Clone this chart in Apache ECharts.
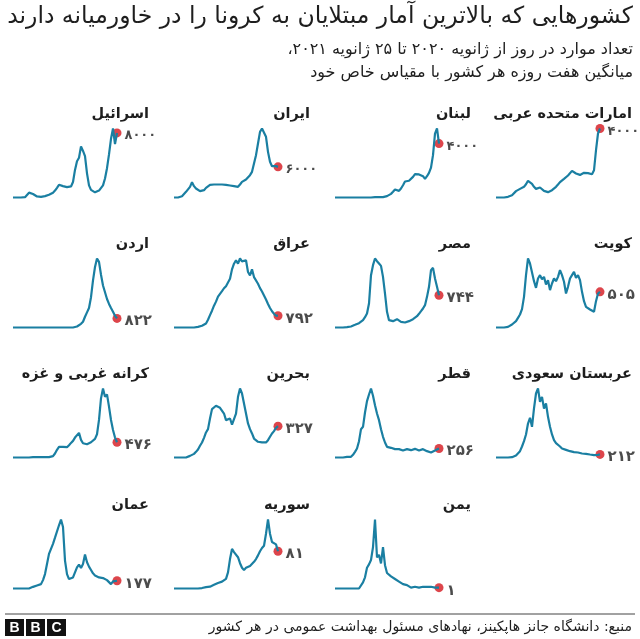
<!DOCTYPE html>
<html>
<head>
<meta charset="utf-8">
<script src="https://cdn.jsdelivr.net/npm/echarts@6/dist/echarts.min.js"></script>
<style>
  html, body { margin: 0; padding: 0; background: #fff; }
  #chart { width: 640px; height: 639px; }
</style>
</head>
<body>
<div id="chart"></div>
<script>
// daily cases, 7-day average, Jan 2020 - 25 Jan 2021 (read roughly once a week)
const uae = [0,0,0,0,0,0,40,80,135,230,370,465,500,560,620,770,965,945,790,620,500,425,580,520,385,330,310,370,425,500,620,750,890,1000,1080,1160,1275,1390,1545,1620,1390,1310,1310,1390,1430,1430,1410,1390,1350,1580,2740,3710,4000]
const lebanon = [0,0,0,0,0,0,0,0,0,0,0,0,0,0,0,0,0,0,0,0,25,25,25,25,25,50,100,170,270,420,590,590,490,670,910,1190,1280,1240,1330,1530,1730,1780,1710,1680,1580,1380,1580,1830,2220,3140,4740,5120,4000]
const iran = [0,0,0,65,260,650,1110,1430,2090,3000,2220,1760,1430,1240,1110,1430,1890,2220,2480,2740,2540,2410,2540,2480,2540,2540,2480,2540,2350,2280,2220,1960,2090,2540,3060,3390,3520,3850,4370,5020,6650,8280,10560,12850,13500,13370,11870,8930,6980,6130,6000,6130,6000]
const israel = [0,0,0,0,0,0,43,214,600,640,430,256,128,85,85,85,171,256,342,428,600,855,1197,1580,1710,1410,1370,1280,1325,1370,1920,3420,4490,4920,6330,5770,5130,2990,1500,940,727,640,727,855,1070,1500,2350,3630,5340,7270,8550,6630,8000]
const kuwait = [0,0,0,0,0,0,9,24,42,66,90,137,184,260,434,741,977,906,920,656,562,694,741,684,717,609,670,529,623,694,656,717,812,741,647,481,576,694,741,788,703,741,670,505,373,293,269,255,236,222,373,481,505]
const egypt = [0,0,0,0,0,0,8,15,23,38,61,77,100,130,169,238,323,553,1206,1436,1590,1528,1475,1420,1167,783,361,169,130,146,184,192,146,130,123,115,130,146,161,192,215,261,315,376,438,515,706,937,1321,1375,1129,937,744]
const iraq = [0,0,0,0,0,0,0,0,0,0,0,25,45,70,115,180,270,520,835,1130,1470,1740,2080,2260,2440,2640,2780,2870,3280,3910,4290,4520,4290,4640,4450,4360,4520,3730,3500,3910,3390,3500,2940,2650,2420,2150,1880,1580,1310,1090,930,790,792]
const jordan = [0,0,0,0,0,0,0,0,0,0,0,0,0,0,0,0,0,0,0,0,0,0,0,0,0,0,0,0,0,0,0,30,90,180,335,520,970,1370,1760,2740,4260,5470,6240,5930,4770,3800,3190,2580,2130,1760,1430,1060,822]
const saudi = [0,0,0,0,0,0,0,0,23,68,136,250,431,749,1112,1566,2315,2700,2090,3340,4360,4700,3800,4130,3340,3680,2770,2090,1570,1180,977,886,750,613,568,522,454,431,386,363,340,340,295,272,272,250,227,204,182,159,159,182,212]
const qatar = [0,0,0,0,0,0,19,47,19,76,161,256,464,805,871,1278,1600,1790,1960,1752,1487,1250,1060,805,587,426,303,256,275,303,237,218,237,218,199,227,237,208,208,237,246,218,199,218,237,227,180,161,142,161,199,237,256]
const bahrain = [0,0,0,0,0,0,0,7,17,24,38,59,84,122,157,205,261,296,407,505,519,540,546,519,529,459,390,379,407,344,355,459,633,720,668,564,459,355,296,251,198,181,164,146,157,164,157,181,216,251,275,310,327]
const westBank = [0,0,0,0,0,0,0,0,0,0,10,10,10,10,10,10,10,10,10,10,42,125,240,333,291,333,374,322,385,457,520,624,686,770,551,447,416,416,437,478,520,582,728,1175,1851,2160,1903,1976,1591,1175,863,624,476]
const yemen = [0,0,0,0,0,0,0,0,0,0,0,0,0,2,7,13,24,28,33,48,80,36,39,29,48,27,18,20,14,12,11,9,8,7,5,3,4,2,1,1,2,1,1,2,2,1,2,1,2,2,1,2,1]
const syria = [0,0,0,0,0,0,0,0,0,0,0,0,0,1,1,2,3,7,4,6,8,9,12,13,15,18,21,35,64,86,79,75,68,55,45,40,45,47,49,52,58,64,72,81,88,93,119,150,119,101,101,96,81]
const oman = [0,0,0,0,0,0,0,0,0,15,38,77,69,54,100,192,331,562,793,808,1024,1163,1178,1448,1580,1409,639,331,216,192,254,370,485,547,470,562,778,601,501,424,347,300,270,254,231,239,208,192,162,100,162,177,177]

const countries = ['امارات متحده عربی', 'لبنان', 'ایران', 'اسرائیل', 'کویت', 'مصر', 'عراق', 'اردن',
  'عربستان سعودی', 'قطر', 'بحرین', 'کرانه غربی و غزه', 'یمن', 'سوریه', 'عمان']
const values = [uae, lebanon, iran, israel, kuwait, egypt, iraq, jordan,
  saudi, qatar, bahrain, westBank, yemen, syria, oman]
const endLabels = ['۴۰۰۰', '۴۰۰۰', '۶۰۰۰', '۸۰۰۰', '۵۰۵', '۷۴۴', '۷۹۲', '۸۲۲',
  '۲۱۲', '۲۵۶', '۳۲۷', '۴۷۶', '۱', '۸۱', '۱۷۷']

const RLM = '\u200F'
const font = "'DejaVu Sans', sans-serif"
const lineColor = '#1a7fa2'
const dotColor = '#d4161e'
const ink = '#1e1e1e'

// panel layout, columns counted from the right
const colLeft = [496, 335, 174, 13]
const rowTop = [128.5, 258.5, 388.5, 519.5]
const plotW = 104
const plotH = 69

const grids = []
const xAxes = []
const yAxes = []
const series = []
const graphics = []

countries.forEach((name, k) => {
  const slot = k < 12 ? k : k + 1 // last row starts one column in
  const row = Math.floor(slot / 4)
  const col = slot % 4
  const data = values[k]
  const n = data.length
  grids.push({ left: colLeft[col], top: rowTop[row], width: plotW, height: plotH })
  xAxes.push({ gridIndex: k, type: 'value', min: 0, max: n - 1, show: false })
  yAxes.push({ gridIndex: k, type: 'value', min: 0, max: Math.max(...data), show: false })
  series.push({
    type: 'line',
    xAxisIndex: k,
    yAxisIndex: k,
    data: data.map((v, i) => [i, v]),
    showSymbol: false,
    clip: false,
    silent: true,
    lineStyle: { color: lineColor, width: 2.2 }
  })
  series.push({
    type: 'scatter',
    xAxisIndex: k,
    yAxisIndex: k,
    data: [[n - 1, data[n - 1]]],
    clip: false,
    silent: true,
    symbolSize: 9,
    itemStyle: { color: dotColor },
    label: {
      show: true,
      position: 'right',
      distance: 3,
      offset: [0, 3],
      formatter: endLabels[k],
      fontFamily: font,
      // the zeros in the thousands labels are narrow in the original
      fontSize: endLabels[k].length > 3 ? 13 : 15,
      fontWeight: 'bold',
      color: ink
    }
  })
  graphics.push({
    type: 'text',
    x: colLeft[col] + 136,
    y: rowTop[row] - 14,
    style: {
      text: RLM + name + RLM,
      align: 'right',
      verticalAlign: 'middle',
      font: "bold 14.5px " + font,
      fill: ink
    }
  })
})

// header, footer and logo
graphics.push(
  { type: 'text', x: 633, y: 17, style: { text: RLM + 'کشورهایی که بالاترین آمار مبتلایان به کرونا را در خاورمیانه دارند' + RLM, align: 'right', verticalAlign: 'middle', font: '23.5px ' + font, fill: ink } },
  { type: 'text', x: 633, y: 50, style: { text: RLM + 'تعداد موارد در روز از ژانویه ۲۰۲۰ تا ۲۵ ژانویه ۲۰۲۱،' + RLM, align: 'right', verticalAlign: 'middle', font: '16px ' + font, fill: ink } },
  { type: 'text', x: 633, y: 73, style: { text: RLM + 'میانگین هفت روزه هر کشور با مقیاس خاص خود' + RLM, align: 'right', verticalAlign: 'middle', font: '16px ' + font, fill: ink } },
  { type: 'line', shape: { x1: 5, y1: 614, x2: 635, y2: 614 }, style: { stroke: '#444', lineWidth: 1 } },
  { type: 'text', x: 632, y: 627, style: { text: RLM + 'منبع: دانشگاه جانز هاپکینز، نهادهای مسئول بهداشت عمومی در هر کشور' + RLM, align: 'right', verticalAlign: 'middle', font: '14px ' + font, fill: ink } }
)
;['B', 'B', 'C'].forEach((ch, i) => {
  graphics.push(
    { type: 'rect', shape: { x: 5 + i * 21, y: 619, width: 19, height: 17 }, style: { fill: '#111' } },
    { type: 'text', x: 14.5 + i * 21, y: 628, style: { text: ch, align: 'center', verticalAlign: 'middle', font: "bold 14px 'Liberation Sans', sans-serif", fill: '#fff' } }
  )
})

const chart = echarts.init(document.getElementById('chart'))
chart.setOption({
  animation: false,
  backgroundColor: '#fff',
  grid: grids,
  xAxis: xAxes,
  yAxis: yAxes,
  series: series,
  graphic: graphics
})
</script>
</body>
</html>
